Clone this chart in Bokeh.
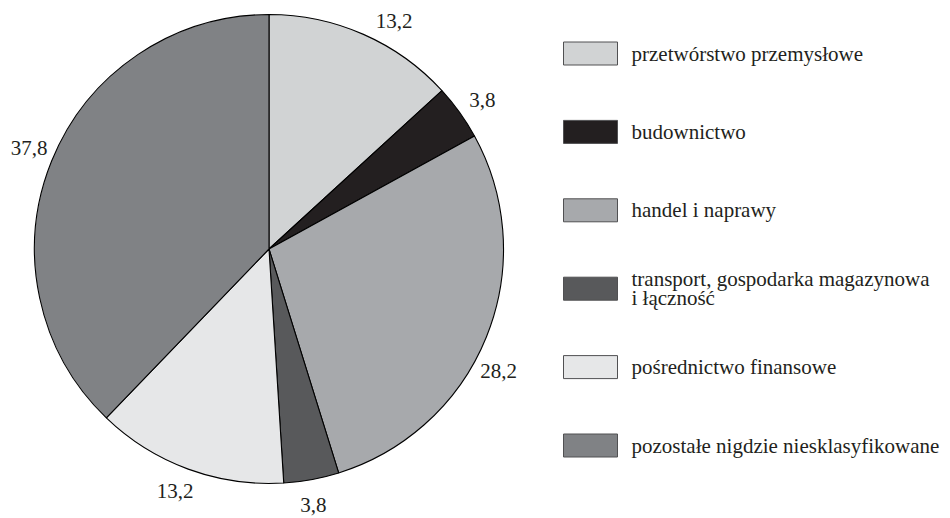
import math
from bokeh.plotting import figure
from bokeh.models import Range1d, ColumnDataSource
from bokeh.core.properties import value
from bokeh.embed import file_html
from bokeh.resources import INLINE

# ---- data ----
categories = [
    "przetwórstwo przemysłowe",
    "budownictwo",
    "handel i naprawy",
    "transport, gospodarka magazynowa\ni łączność",
    "pośrednictwo finansowe",
    "pozostałe nigdzie niesklasyfikowane",
]
shares = [13.2, 3.8, 28.2, 3.8, 13.2, 37.8]
share_labels = ["13,2", "3,8", "28,2", "3,8", "13,2", "37,8"]
colors = ["#d1d3d4", "#231f20", "#a7a9ac", "#58595b", "#e6e7e8", "#808285"]

# ---- layout (screen-pixel coordinates, y measured downward from page top) ----
W, H = 948, 516
PAGE_H = 518
CX, CY_SCREEN, R = 268.5, 248.5, 234.5
LABEL_R = 260
LABEL_ANGLE_NUDGE_DEG = [5, 0.8, 6, 0.6, 1, 0.8]
FONT = "Liberation Serif"


def sy(y_screen):
    return PAGE_H - y_screen


p = figure(width=W, height=H, output_backend="svg", toolbar_location=None,
           x_range=Range1d(0, W), y_range=Range1d(sy(H), sy(0)),
           min_border=0)
p.axis.visible = False
p.grid.visible = False
p.outline_line_color = None
p.background_fill_color = "white"
p.border_fill_color = "white"

total = sum(shares)
starts, ends, lx, ly = [], [], [], []
cum = 0.0
for v, nudge in zip(shares, LABEL_ANGLE_NUDGE_DEG):
    a0 = cum / total
    cum += v
    a1 = cum / total
    starts.append(math.pi / 2 - 2 * math.pi * a0)
    ends.append(math.pi / 2 - 2 * math.pi * a1)
    mid = 2 * math.pi * (a0 + a1) / 2 + math.radians(nudge)  # clockwise from top
    lx.append(CX + LABEL_R * math.sin(mid))
    ly.append(sy(CY_SCREEN) + LABEL_R * math.cos(mid))

src = ColumnDataSource(dict(start=starts, end=ends, color=colors))
p.wedge(x=CX, y=sy(CY_SCREEN), radius=R, radius_units="screen",
        start_angle="start", end_angle="end", direction="clock",
        fill_color="color", line_color="black", line_width=1.1, source=src)

p.text(x=lx, y=ly, text=share_labels, text_font=value(FONT),
       text_font_size="21px", text_color="#231f20", text_line_height=1.0,
       text_align="center", text_baseline="middle")

# ---- legend ----
LEG_BOX_X0, LEG_BOX_X1 = 563, 617
LEG_TEXT_X = 631
LEG_Y0, LEG_STEP = 53, 78.4
BOX_H = 23
ycs = [LEG_Y0 + i * LEG_STEP for i in range(len(categories))]
p.quad(left=LEG_BOX_X0, right=LEG_BOX_X1,
       bottom=[sy(y + BOX_H / 2) for y in ycs],
       top=[sy(y - BOX_H / 2) for y in ycs],
       fill_color=colors, line_color="#505052", line_width=1)

for yc, lab in zip(ycs, categories):
    lines = lab.split("\n")
    n = len(lines)
    for j, line in enumerate(lines):
        off = (j - (n - 1) / 2) * 19
        p.text(x=[LEG_TEXT_X], y=[sy(yc + off)], text=[line],
               text_font=value(FONT), text_font_size="21px",
               text_color="#231f20", text_align="left",
               text_baseline="middle")

open("out.html", "w").write(file_html(p, INLINE))
